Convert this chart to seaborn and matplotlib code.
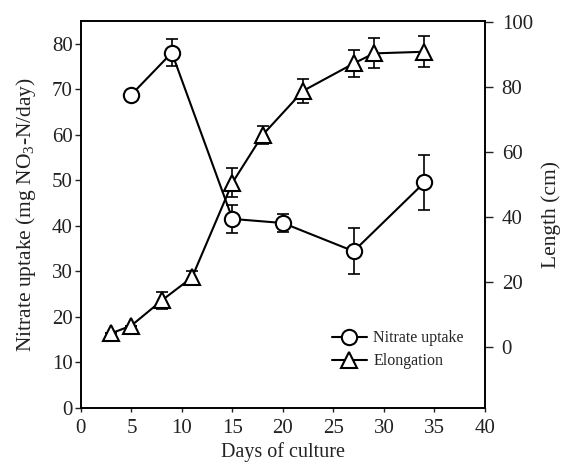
import matplotlib
matplotlib.use("Agg")
import matplotlib.pyplot as plt
import seaborn as sns
import pandas as pd

# Data
nitrate_days = [5, 9, 15, 20, 27, 34]
nitrate_vals = [68.8, 78.0, 41.5, 40.6, 34.4, 49.5]
nitrate_err = [0.0, 3.0, 3.0, 2.0, 5.0, 6.0]

elong_days = [3, 5, 8, 11, 15, 18, 22, 27, 29, 34]
elong_vals = [4.3, 6.7, 14.4, 21.5, 50.6, 65.3, 78.8, 87.2, 90.3, 90.8]
elong_err = [0.0, 0.0, 2.7, 2.0, 4.5, 2.8, 3.7, 4.0, 4.6, 4.7]

x_ticks = [0, 5, 10, 15, 20, 25, 30, 35, 40]
left_ticks = [0, 10, 20, 30, 40, 50, 60, 70, 80]
right_ticks = [0, 20, 40, 60, 80, 100]

sns.set_style("ticks")
plt.rcParams['font.family'] = ['Liberation Serif', 'DejaVu Serif']
plt.rcParams['mathtext.default'] = 'regular'
plt.rcParams['xtick.direction'] = 'out'
plt.rcParams['ytick.direction'] = 'out'

fig = plt.figure(figsize=(5.62, 4.63), dpi=100)
ax = fig.add_axes([0.144, 0.119, 0.719, 0.836])
ax2 = ax.twinx()

df_n = pd.DataFrame({"day": nitrate_days, "val": nitrate_vals})
df_e = pd.DataFrame({"day": elong_days, "val": elong_vals})

lw = 1.5
ms = 11

ax.errorbar(nitrate_days, nitrate_vals, yerr=nitrate_err, fmt='none',
            ecolor='black', elinewidth=1.2, capsize=4, capthick=1.2, zorder=2)
sns.lineplot(data=df_n, x="day", y="val", ax=ax, color='black', lw=lw,
             marker='o', markersize=ms, markerfacecolor='white',
             markeredgecolor='black', markeredgewidth=1.5, zorder=3,
             label='Nitrate uptake', legend=False)

ax2.errorbar(elong_days, elong_vals, yerr=elong_err, fmt='none',
             ecolor='black', elinewidth=1.2, capsize=4, capthick=1.2, zorder=2)
sns.lineplot(data=df_e, x="day", y="val", ax=ax2, color='black', lw=lw,
             marker='^', markersize=ms + 1, markerfacecolor='white',
             markeredgecolor='black', markeredgewidth=1.5, zorder=3,
             label='Elongation', legend=False)

ax.set_xlim(0, 40)
ax.set_ylim(0, 85)
ax2.set_ylim(-18.6, 100.3)
ax.set_xticks(x_ticks)
ax.set_yticks(left_ticks)
ax2.set_yticks(right_ticks)

for a in (ax, ax2):
    for s in a.spines.values():
        s.set_visible(True)
        s.set_linewidth(1.2)
        s.set_color('black')

ax.tick_params(axis='x', labelsize=15, length=3, width=1.0, pad=5, colors='#222222')
ax.tick_params(axis='y', labelsize=15, length=4, width=1.0, pad=2, colors='#222222')
ax2.tick_params(axis='y', labelsize=15, length=6, width=1.0, pad=6, colors='#222222')

ax.set_xlabel("Days of culture", fontsize=14.5, labelpad=3, color='#222222')
ax.set_ylabel("Nitrate uptake (mg NO$_3$-N/day)", fontsize=15.5, labelpad=10, color='#222222')
ax2.set_ylabel("Length (cm)", fontsize=15.5, labelpad=6, color='#222222')

h1, l1 = ax.get_legend_handles_labels()
h2, l2 = ax2.get_legend_handles_labels()
leg = ax2.legend(h1 + h2, l1 + l2, loc='center left',
                 bbox_to_anchor=(0.585, 0.15), frameon=False, fontsize=11.5,
                 handlelength=2.2, handletextpad=0.4, labelspacing=0.45)

fig.savefig("out.png", dpi=100)
